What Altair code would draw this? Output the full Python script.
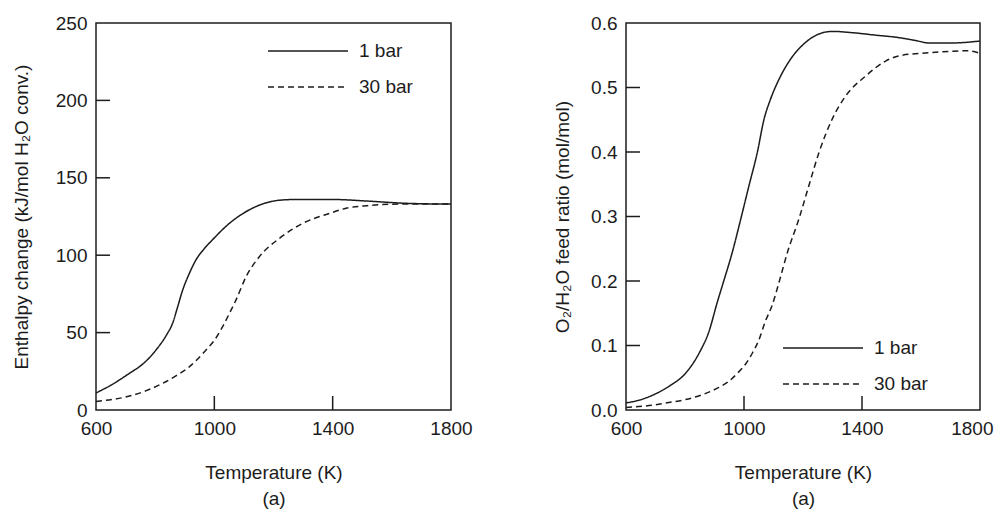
import altair as alt
import pandas as pd

# ---- Left panel: enthalpy change (kJ/mol H2O converted) ----
t_h_1bar = [600, 650, 713, 760, 803, 840, 859, 875, 893, 915, 938, 965, 994, 1051, 1107, 1163, 1231, 1276, 1400, 1515, 1650, 1800]
h_1bar = [11, 16, 23.7, 30, 38.8, 49, 56, 66, 77.5, 88, 97, 104, 110, 120.6, 128.1, 133.1, 135.7, 136, 136, 135, 133.5, 133]
t_h_30bar = [600, 713, 770, 825, 870, 916, 972, 1000, 1028, 1050, 1073, 1107, 1152, 1220, 1299, 1389, 1445, 1515, 1628, 1800]
h_30bar = [5.5, 9, 12.5, 17.2, 22, 28, 38.8, 45, 53.8, 62, 71, 86, 99, 110.9, 120.6, 127, 130.3, 132, 133, 133]

# ---- Right panel: O2/H2O feed ratio (mol/mol) ----
t_r_1bar = [600, 650, 700, 750, 800, 850, 880, 910, 930, 960, 989, 1017, 1045, 1068, 1090, 1119, 1158, 1209, 1254, 1300, 1367, 1450, 1514, 1580, 1628, 1700, 1800]
r_1bar = [0.011, 0.016, 0.025, 0.038, 0.056, 0.09, 0.12, 0.168, 0.198, 0.244, 0.296, 0.348, 0.399, 0.451, 0.482, 0.513, 0.544, 0.570, 0.583, 0.587, 0.585, 0.581, 0.578, 0.573, 0.569, 0.569, 0.572]
t_r_30bar = [600, 700, 750, 800, 860, 915, 950, 980, 1005, 1028, 1050, 1072, 1096, 1120, 1147, 1186, 1220, 1254, 1299, 1345, 1413, 1480, 1525, 1600, 1700, 1760, 1800]
r_30bar = [0.004, 0.008, 0.012, 0.016, 0.024, 0.035, 0.045, 0.058, 0.071, 0.088, 0.108, 0.137, 0.163, 0.2, 0.244, 0.296, 0.348, 0.399, 0.451, 0.487, 0.518, 0.541, 0.549, 0.553, 0.556, 0.557, 0.553]

series_names = ["1 bar", "30 bar"]
x_labels = [600, 1000, 1400, 1800]
x_inner_ticks = [1000, 1400]
h_labels = [0, 50, 100, 150, 200, 250]
h_inner_ticks = [50, 100, 150, 200]
r_labels = [0.0, 0.1, 0.2, 0.3, 0.4, 0.5, 0.6]
r_inner_ticks = [0.1, 0.2, 0.3, 0.4, 0.5]

FONT = "Liberation Sans"
INK = "#1c1c1c"
W_L, W_R, H = 355, 354, 387
TICK = 14


def frame(ts, vs, name):
    return pd.DataFrame({"T": ts, "v": vs, "series": name})


def panel(df, width, ytitle, ydomain, ylabels, yfmt, yticks, legend_x, legend_y, ytitle_pad,
          pull_last=False):
    xs = alt.Scale(domain=[600, 1800], nice=False, zero=False)
    ys = alt.Scale(domain=ydomain, nice=False, zero=False)
    extra = {}
    if pull_last:
        # keep the last label inside the page width
        extra = dict(
            labelAlign={"condition": {"test": "datum.value == 1800", "value": "right"}, "value": "center"},
            labelOffset={"condition": {"test": "datum.value == 1800", "value": 13}, "value": 0},
        )
    x_axis = alt.Axis(values=x_labels, format="d", title=["Temperature (K)", "(a)"],
                      titleLineHeight=26, titlePadding=25, labelPadding=9, **extra)
    y_axis = alt.Axis(values=ylabels, format=yfmt, title=ytitle, titlePadding=ytitle_pad, labelPadding=9)
    lines = alt.Chart(df).mark_line(stroke=INK, strokeWidth=1.5, interpolate="monotone").encode(
        x=alt.X("T:Q", scale=xs, axis=x_axis),
        y=alt.Y("v:Q", scale=ys, axis=y_axis),
        strokeDash=alt.StrokeDash(
            "series:N",
            scale=alt.Scale(domain=series_names, range=[[1, 0], [6, 4]]),
            legend=alt.Legend(title=None, orient="none", legendX=legend_x, legendY=legend_y,
                              symbolType="M-4,0H4", symbolSize=400, symbolStrokeColor=INK,
                              symbolStrokeWidth=1.5, labelOffset=40, rowPadding=15, padding=0,
                              labelFont=FONT, labelFontSize=19, labelColor=INK),
        ),
    )
    xt = alt.Chart(pd.DataFrame({"T": x_inner_ticks})).mark_rule(stroke=INK, strokeWidth=1.5).encode(
        x=alt.X("T:Q", scale=xs, axis=x_axis), y=alt.value(H), y2=alt.value(H - TICK))
    yt = alt.Chart(pd.DataFrame({"v": yticks})).mark_rule(stroke=INK, strokeWidth=1.5).encode(
        y=alt.Y("v:Q", scale=ys, axis=y_axis), x=alt.value(0), x2=alt.value(TICK))
    return alt.layer(lines, xt, yt).properties(width=width, height=H)


left_df = pd.concat([frame(t_h_1bar, h_1bar, "1 bar"), frame(t_h_30bar, h_30bar, "30 bar")])
right_df = pd.concat([frame(t_r_1bar, r_1bar, "1 bar"), frame(t_r_30bar, r_30bar, "30 bar")])

left = panel(left_df, W_L, "Enthalpy change (kJ/mol H\u2082O conv.)", [0, 250], h_labels, "d",
             h_inner_ticks, 201, 17, 24)
right = panel(right_df, W_R, "O\u2082/H\u2082O feed ratio (mol/mol)", [0, 0.6], r_labels, ".1f",
              r_inner_ticks, 186, 314, 18, pull_last=True)

chart = alt.hconcat(left, right, spacing=79).resolve_scale(
    strokeDash="independent").resolve_legend(strokeDash="independent").properties(
    padding={"left": 3, "top": 5, "right": 0, "bottom": 0}, background="white"
).configure_view(stroke=INK, strokeWidth=1.5).configure_axis(
    domain=False, ticks=False, grid=False, labelFlush=False, labelOverlap=False,
    labelFont=FONT, labelFontSize=19, labelColor=INK,
    titleFont=FONT, titleFontSize=19, titleFontWeight="normal", titleColor=INK,
)

chart.save("out.html", embed_options={"renderer": "svg", "actions": False})
